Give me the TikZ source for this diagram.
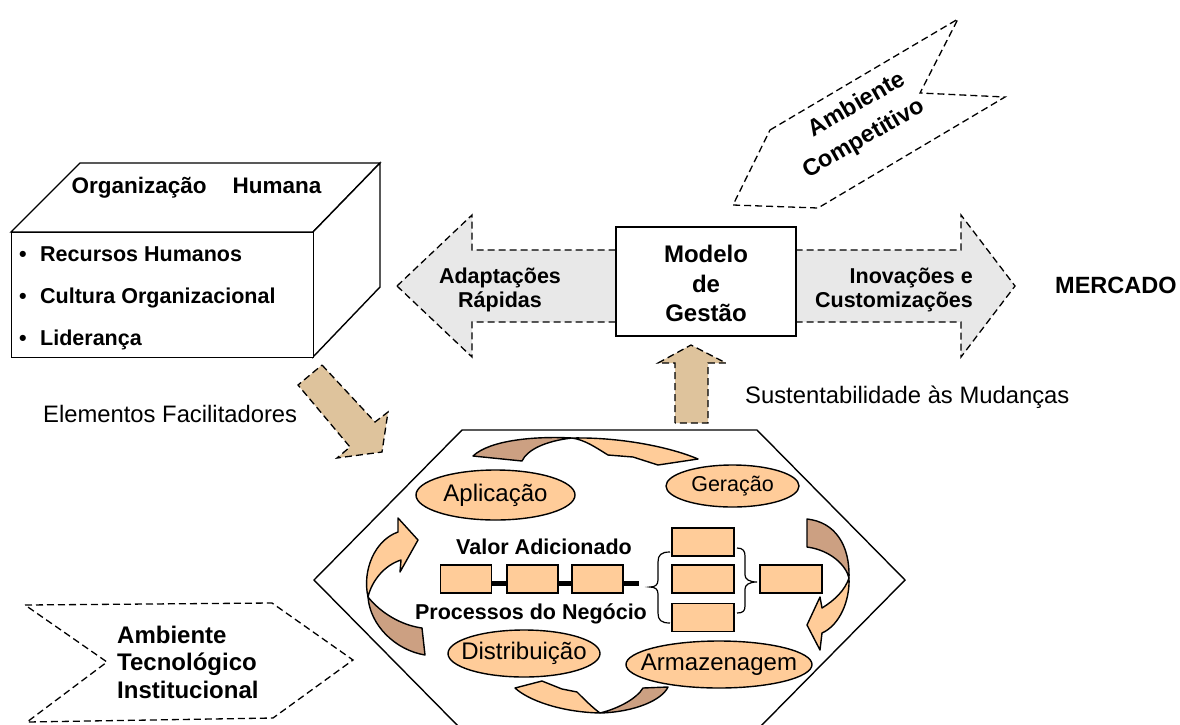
\documentclass[tikz,border=0pt]{standalone}
\usepackage{fontspec}
\setmainfont{Liberation Sans}
\usetikzlibrary{shapes.geometric}
\definecolor{peach}{RGB}{255,204,153}
\definecolor{peachdark}{RGB}{204,160,130}
\definecolor{tanfill}{RGB}{222,195,156}
\definecolor{arrowgray}{RGB}{232,232,232}
\begin{document}
\begin{tikzpicture}[x=1pt,y=-1pt,
  outline/.style={draw=black,line width=1.4pt,line join=miter},
  dashedge/.style={draw=black,line width=1.3pt,dash pattern=on 7pt off 4pt},
  boldtxt/.style={font=\fontsize{21.5}{26}\selectfont\bfseries,inner sep=0pt},
  bigbold/.style={font=\fontsize{24}{28}\selectfont\bfseries,inner sep=0pt},
  plaintxt/.style={font=\fontsize{23.8}{28}\selectfont,inner sep=0pt},
  stagebox/.style={ellipse,outline,fill=peach,inner sep=0pt},
  stagetxt/.style={font=\fontsize{24}{28}\selectfont,inner sep=0pt},
  procbox/.style={rectangle,outline,fill=peach,minimum width=51pt,minimum height=28pt,inner sep=0pt},
  lightpart/.style={outline,line join=round,fill=peach},
  darkpart/.style={outline,line join=round,fill=peachdark},
]
\useasboundingbox (0,0) rectangle (1180,724);
\clip (0,0) rectangle (1180,724);

% ---------- hexagon holding the value chain ----------
\draw[outline] (462,430) -- (757,430) -- (905,580) -- (757,730) -- (462,730) -- (314,580) -- cycle;

% ---------- 3D box: human organisation ----------
\draw[outline,fill=white] (11,232) -- (80,163) -- (380,163) -- (313,232) -- cycle;
\draw[outline,fill=white] (313,232) -- (380,163) -- (380,287) -- (313,357) -- cycle;
\node[outline,fill=white,minimum width=302pt,minimum height=125pt,inner sep=0pt,anchor=north west] (front) at (11,232) {};
\node[font=\fontsize{22.5}{26}\selectfont\bfseries,inner sep=0pt,anchor=base] (orgtitle) at (196.5,193) {Organização\hspace{26pt}Humana};
\node[boldtxt,anchor=base west] (bul1) at (19,261) {•};
\node[boldtxt,anchor=base west] (bul2) at (19,303) {•};
\node[boldtxt,anchor=base west] (bul3) at (19,345) {•};
\node[boldtxt,anchor=base west] (item1) at (40,261) {Recursos Humanos};
\node[boldtxt,anchor=base west] (item2) at (40,303) {Cultura Organizacional};
\node[boldtxt,anchor=base west] (item3) at (40,345) {Liderança};

% ---------- facilitating elements arrow ----------
\draw[dashedge,fill=tanfill] (322,365) -- (375,422) -- (388,412) -- (382,452) -- (337,458) -- (350,447) -- (298,385) -- cycle;
\node[plaintxt,anchor=base west] (facil) at (43,422) {Elementos Facilitadores};

% ---------- double arrow and management model ----------
\draw[dashedge,fill=arrowgray] (397,286) -- (472,215) -- (472,250) -- (961,250) -- (961,215) -- (1015,286)
  -- (961,357) -- (961,322) -- (472,322) -- (472,357) -- cycle;
\node[outline,fill=white,minimum width=180pt,minimum height=109pt,inner sep=0pt] (mg) at (706,281.5) {};
\node[bigbold,anchor=base] (mg1) at (706,262) {Modelo};
\node[bigbold,anchor=base] (mg2) at (706,292) {de};
\node[bigbold,anchor=base] (mg3) at (706,321) {Gestão};
\node[boldtxt,anchor=base] (adap1) at (500,283) {Adaptações};
\node[boldtxt,anchor=base] (adap2) at (500,307) {Rápidas};
\node[boldtxt,anchor=base east] (inov1) at (973,283) {Inovações e};
\node[boldtxt,anchor=base east] (inov2) at (973,307) {Customizações};
\node[font=\fontsize{23.5}{28}\selectfont\bfseries,inner sep=0pt,anchor=base west] (mercado) at (1055,293) {MERCADO};

% ---------- sustainability arrow ----------
\draw[dashedge,fill=tanfill] (675,423) -- (675,363) -- (658,363) -- (691,345) -- (726,363) -- (708,363) -- (708,423) -- cycle;
\node[plaintxt,anchor=base west] (sust) at (745,403) {Sustentabilidade às Mudanças};

% ---------- competitive environment ----------
\draw[dashedge] (770,130) -- (958,19) -- (920,93) -- (1005,97) -- (818,208) -- (733,205) -- cycle;
\node[font=\fontsize{23.5}{28}\selectfont\bfseries,inner sep=0pt,rotate=30] (compet1) at (856,103) {Ambiente};
\node[font=\fontsize{23.5}{28}\selectfont\bfseries,inner sep=0pt,rotate=30] (compet2) at (864,139) {Competitivo};

% ---------- technological / institutional environment ----------
\draw[dashedge] (25,605) -- (272,603) -- (353,660) -- (273,718) -- (27,722) -- (107,662) -- cycle;
\node[bigbold,anchor=base west] (tec1) at (117,643) {Ambiente};
\node[bigbold,anchor=base west] (tec2) at (117,670) {Tecnológico};
\node[bigbold,anchor=base west] (tec3) at (117,698) {Institucional};

% ---------- knowledge cycle stages ----------
\node[stagebox,minimum width=159pt,minimum height=50pt] (apl) at (495.5,495) {};
\node[stagetxt] (apltxt) at (apl.center) {Aplicação};
\node[stagebox,minimum width=133pt,minimum height=42pt] (ger) at (732.5,486) {};
\node[stagetxt,font=\fontsize{21.5}{26}\selectfont] (gertxt) at (ger.center) {Geração};
\node[stagebox,minimum width=152pt,minimum height=47pt] (dis) at (524,653.5) {};
\node[stagetxt] (distxt) at (dis.center) {Distribuição};
\node[stagebox,minimum width=186pt,minimum height=47pt] (arm) at (719,664.5) {};
\node[stagetxt] (armtxt) at (arm.center) {Armazenagem};

% ---------- curved cycle arrows (dark tail, light head) ----------
% top: application -> generation
\draw[darkpart] (473,456) .. controls (490,440) and (535,436) .. (572,438)
  .. controls (545,441) and (527,450) .. (522,461) -- cycle;
\draw[lightpart] (572,438) .. controls (620,437) and (670,447) .. (698,459) -- (658,465) -- (633,457) -- (608,455)
  .. controls (595,447) and (585,440) .. (572,438) -- cycle;
% right: generation -> storage
\draw[darkpart] (807,519) .. controls (835,522) and (850,545) .. (849,578)
  .. controls (846,565) and (830,550) .. (807,547) -- cycle;
\draw[lightpart] (849,578) .. controls (850,600) and (840,625) .. (822,633) -- (820,650) -- (807,625) -- (820,597) -- (822,608)
  .. controls (835,600) and (845,590) .. (849,578) -- cycle;
% bottom: storage -> distribution
\draw[darkpart] (668,687) .. controls (662,700) and (635,712) .. (600,713)
  .. controls (620,708) and (637,698) .. (643,688) -- cycle;
\draw[lightpart] (600,713) .. controls (560,712) and (528,700) .. (515,688) -- (542,681) -- (562,689) -- (577,692)
  .. controls (585,700) and (593,708) .. (600,713) -- cycle;
% left: distribution -> application
\draw[darkpart] (368,597) .. controls (370,625) and (395,650) .. (425,655) -- (422,628)
  .. controls (400,625) and (380,612) .. (368,597) -- cycle;
\draw[lightpart] (368,597) .. controls (362,570) and (375,540) .. (398,532) -- (398,518) -- (418,540) -- (400,572) -- (401,560)
  .. controls (385,565) and (372,580) .. (368,597) -- cycle;

% ---------- business process chain ----------
\node[procbox] (p1) at (466,579) {};
\node[procbox] (p2) at (532.5,579) {};
\node[procbox] (p3) at (597.5,579) {};
\coordinate (chainend) at (639,583);
\draw[line width=5pt] ([yshift=-4pt]p1.east) -- ([yshift=-4pt]p2.west);
\draw[line width=5pt] ([yshift=-4pt]p2.east) -- ([yshift=-4pt]p3.west);
\draw[line width=5pt] ([yshift=-4pt]p3.east) -- (chainend);
\node[procbox,minimum width=62pt] (s1) at (703,542) {};
\node[procbox,minimum width=62pt] (s2) at (703,579) {};
\node[procbox,minimum width=62pt] (s3) at (703,617.5) {};
\node[procbox,minimum width=62pt] (r1) at (791,579) {};
\draw[line width=1.2pt] (670,552) .. controls (661,552) and (658,555) .. (658,562) -- (658,580)
  .. controls (658,585) and (655,587) .. (650,587) .. controls (655,587) and (658,589) .. (658,594) -- (658,613)
  .. controls (658,620) and (661,623) .. (670,623);
\draw[line width=1.2pt] (737,548) .. controls (743,548) and (745,551) .. (745,556) -- (745,575)
  .. controls (745,579) and (749,582) .. (757,582) .. controls (749,582) and (745,585) .. (745,589) -- (745,606)
  .. controls (745,611) and (743,613) .. (737,613);
\node[boldtxt,anchor=base] (valor) at (544,554) {Valor Adicionado};
\node[boldtxt,anchor=base] (proc) at (531,619) {Processos do Negócio};

\end{tikzpicture}
\end{document}
